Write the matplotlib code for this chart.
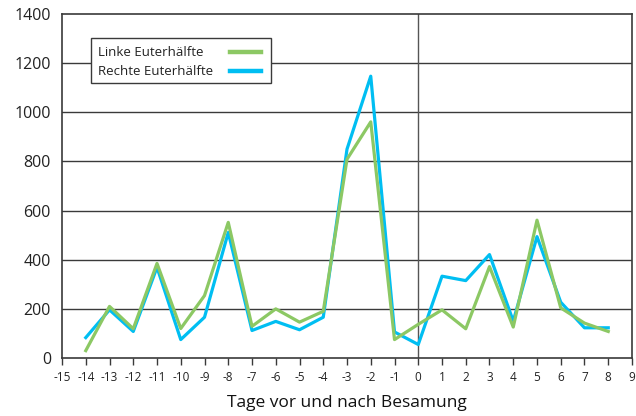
import matplotlib
matplotlib.use('Agg')
import matplotlib.pyplot as plt
from matplotlib.patches import Rectangle
from matplotlib.lines import Line2D

plt.rcParams['font.family'] = ['Open Sans', 'DejaVu Sans']
plt.rcParams['axes.unicode_minus'] = False

# Tage vor und nach Besamung
tage = [-14, -13, -12, -11, -10, -9, -8, -7, -6, -5, -4, -3, -2, -1, 0, 1, 2, 3, 4, 5, 6, 7, 8]
linke = [30, 210, 119, 385, 120, 254, 552, 129, 200, 146, 190, 809, 961, 75, 137, 196, 119, 372, 126, 561, 204, 142, 108]
rechte = [83, 196, 108, 369, 75, 166, 511, 112, 149, 115, 166, 850, 1147, 106, 55, 333, 315, 421, 150, 494, 227, 123, 123]

x_ticks = list(range(-15, 10))
y_ticks = list(range(0, 1401, 200))
series_names = ['Linke Euterhälfte', 'Rechte Euterhälfte']

green = '#8CC864'
blue = '#00BEF2'
dark = '#3a3a3a'

fig = plt.figure(figsize=(6.36, 4.16), dpi=100)
ax = fig.add_axes([0.0975, 0.1394, 0.8962, 0.8269])

# grid + zero line
for yv in y_ticks[1:-1]:
    ax.axhline(yv, color=dark, lw=1.0, zorder=1)
ax.axvline(0, color='#555555', lw=1.0, zorder=1)

ax.plot(tage, rechte, color=blue, lw=2.3, zorder=3)
ax.plot(tage, linke, color=green, lw=2.3, zorder=4)

ax.set_xlim(-15, 9)
ax.set_ylim(0, 1400)
ax.set_xticks(x_ticks)
ax.set_xticklabels([str(t) for t in x_ticks], fontsize=8.5, color='#222222')
ax.set_yticks(y_ticks)
ax.set_yticklabels([str(v) for v in y_ticks], fontsize=11.5, color='#222222')
ax.tick_params(axis='y', length=0, pad=8)
ax.tick_params(axis='x', length=5, width=1, color=dark, pad=4, direction='out')

for s in ax.spines.values():
    s.set_color(dark)
    s.set_linewidth(1.2)

ax.set_xlabel('Tage vor und nach Besamung', fontsize=12.5, color='#111111', labelpad=8)

# legend box, text left and line sample right
ax.add_patch(Rectangle((0.051, 0.800), 0.316, 0.129, transform=ax.transAxes,
                       facecolor='white', edgecolor=dark, lw=1.0, zorder=5))
for name, col, yy in zip(series_names, [green, blue], [0.889, 0.834]):
    ax.text(0.063, yy, name, transform=ax.transAxes, fontsize=9.5,
            color='#222222', va='center', ha='left', zorder=6)
    ax.add_line(Line2D([0.295, 0.349], [yy, yy], transform=ax.transAxes,
                       color=col, lw=3.2, zorder=6))

plt.savefig('out.png', dpi=100)
